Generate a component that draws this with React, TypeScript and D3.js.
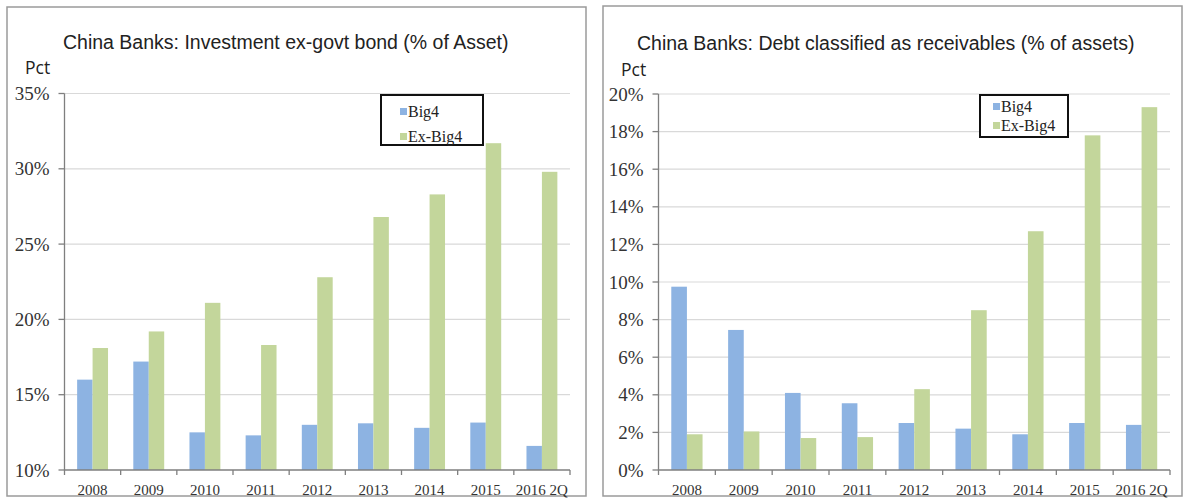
import React from "react";
import * as d3 from "d3";

const categories = ["2008", "2009", "2010", "2011", "2012", "2013", "2014", "2015", "2016 2Q"];
const seriesNames = ["Big4", "Ex-Big4"];

const investBig4 = [16.0, 17.2, 12.5, 12.3, 13.0, 13.1, 12.8, 13.15, 11.6];
const investExBig4 = [18.1, 19.2, 21.1, 18.3, 22.8, 26.8, 28.3, 31.7, 29.8];
const investTicks = [10, 15, 20, 25, 30, 35];

const debtBig4 = [9.75, 7.45, 4.1, 3.55, 2.5, 2.2, 1.9, 2.5, 2.4];
const debtExBig4 = [1.9, 2.05, 1.7, 1.75, 4.3, 8.5, 12.7, 17.8, 19.3];
const debtTicks = [0, 2, 4, 6, 8, 10, 12, 14, 16, 18, 20];

const colors = ["#8db3e2", "#c3d69b"];

type PanelProps = {
  title: string;
  big4: number[];
  exBig4: number[];
  ticks: number[];
  box: { x: number; y: number; w: number; h: number };
  plot: { x0: number; x1: number; yTop: number; yBottom: number };
  titlePos: { x: number; y: number };
  pctPos: { x: number; y: number };
  legend: { x: number; y: number; w: number; h: number; sqX: number; y1: number; y2: number };
};

function Panel(p: PanelProps) {
  const { plot } = p;
  const y = d3
    .scaleLinear()
    .domain([p.ticks[0], p.ticks[p.ticks.length - 1]])
    .range([plot.yBottom, plot.yTop]);
  const x = d3
    .scaleBand<string>()
    .domain(categories)
    .range([plot.x0, plot.x1])
    .paddingInner(0.45)
    .paddingOuter(0.225);
  const xs = d3.scaleBand<string>().domain(seriesNames).range([0, x.bandwidth()]);
  const step = x.step();
  const values = [p.big4, p.exBig4];
  const base = p.ticks[0];

  return (
    <g>
      <rect
        x={p.box.x}
        y={p.box.y}
        width={p.box.w}
        height={p.box.h}
        fill="#fff"
        stroke="#9a9a9a"
        strokeWidth={1.5}
      />
      <text
        x={p.titlePos.x}
        y={p.titlePos.y}
        fontFamily="'Liberation Sans', Arial, sans-serif"
        fontSize={19.5}
        fill="#222"
      >
        {p.title}
      </text>
      <text
        x={p.pctPos.x}
        y={p.pctPos.y}
        fontFamily="'Open Sans', 'Noto Sans', sans-serif"
        fontSize={17.5}
        fill="#222"
      >
        Pct
      </text>
      {p.ticks.map((t) => (
        <g key={t}>
          {t !== base && (
            <line x1={plot.x0} x2={plot.x1} y1={y(t)} y2={y(t)} stroke="#d9d9d9" strokeWidth={1.2} />
          )}
          <line x1={plot.x0 - 6} x2={plot.x0} y1={y(t)} y2={y(t)} stroke="#7f7f7f" strokeWidth={1.3} />
          <text
            x={plot.x0 - 15}
            y={y(t)}
            dy="0.35em"
            textAnchor="end"
            fontFamily="'Liberation Serif', 'Times New Roman', serif"
            fontSize={19}
            fill="#333"
          >
            {t}%
          </text>
        </g>
      ))}
      {categories.map((c, i) =>
        values.map((vals, s) => (
          <rect
            key={c + s}
            x={(x(c) as number) + (xs(seriesNames[s]) as number)}
            y={y(vals[i])}
            width={xs.bandwidth()}
            height={y(base) - y(vals[i])}
            fill={colors[s]}
          />
        ))
      )}
      <line x1={plot.x0} x2={plot.x0} y1={plot.yTop} y2={plot.yBottom} stroke="#7f7f7f" strokeWidth={1.3} />
      <line x1={plot.x0} x2={plot.x1} y1={plot.yBottom} y2={plot.yBottom} stroke="#7f7f7f" strokeWidth={1.3} />
      {d3.range(categories.length + 1).map((i) => (
        <line
          key={i}
          x1={plot.x0 + i * step}
          x2={plot.x0 + i * step}
          y1={plot.yBottom}
          y2={plot.yBottom + 5}
          stroke="#7f7f7f"
          strokeWidth={1.3}
        />
      ))}
      {categories.map((c) => (
        <text
          key={c}
          x={(x(c) as number) + x.bandwidth() / 2}
          y={495}
          textAnchor="middle"
          fontFamily="'Liberation Serif', 'Times New Roman', serif"
          fontSize={15}
          fill="#333"
        >
          {c}
        </text>
      ))}
      <rect
        x={p.legend.x}
        y={p.legend.y}
        width={p.legend.w}
        height={p.legend.h}
        fill="#fff"
        stroke="#111"
        strokeWidth={2}
      />
      {seriesNames.map((s, i) => {
        const ly = i === 0 ? p.legend.y1 : p.legend.y2;
        return (
          <g key={s}>
            <rect x={p.legend.sqX} y={ly - 9} width={7} height={7} fill={colors[i]} />
            <text
              x={p.legend.sqX + 8}
              y={ly}
              fontFamily="'Liberation Serif', 'Times New Roman', serif"
              fontSize={16}
              fill="#222"
            >
              {s}
            </text>
          </g>
        );
      })}
    </g>
  );
}

export default function App() {
  return (
    <svg
      width={1184}
      height={499}
      style={{ position: "absolute", left: 0, top: 0, background: "#fff" }}
    >
      <rect x={0} y={0} width={1184} height={499} fill="#fff" />
      <Panel
        title="China Banks: Investment ex-govt bond (% of Asset)"
        big4={investBig4}
        exBig4={investExBig4}
        ticks={investTicks}
        box={{ x: 7, y: 7, w: 579, h: 489 }}
        plot={{ x0: 64.5, x1: 570, yTop: 93.5, yBottom: 470 }}
        titlePos={{ x: 63, y: 49 }}
        pctPos={{ x: 25, y: 74 }}
        legend={{ x: 381, y: 95, w: 102, h: 50, sqX: 400, y1: 117, y2: 142 }}
      />
      <Panel
        title="China Banks: Debt classified as receivables (% of assets)"
        big4={debtBig4}
        exBig4={debtExBig4}
        ticks={debtTicks}
        box={{ x: 603, y: 6, w: 579, h: 490 }}
        plot={{ x0: 658.5, x1: 1170, yTop: 94, yBottom: 470 }}
        titlePos={{ x: 637, y: 50 }}
        pctPos={{ x: 621, y: 76 }}
        legend={{ x: 980, y: 95, w: 88, h: 42, sqX: 993, y1: 112, y2: 131 }}
      />
    </svg>
  );
}
